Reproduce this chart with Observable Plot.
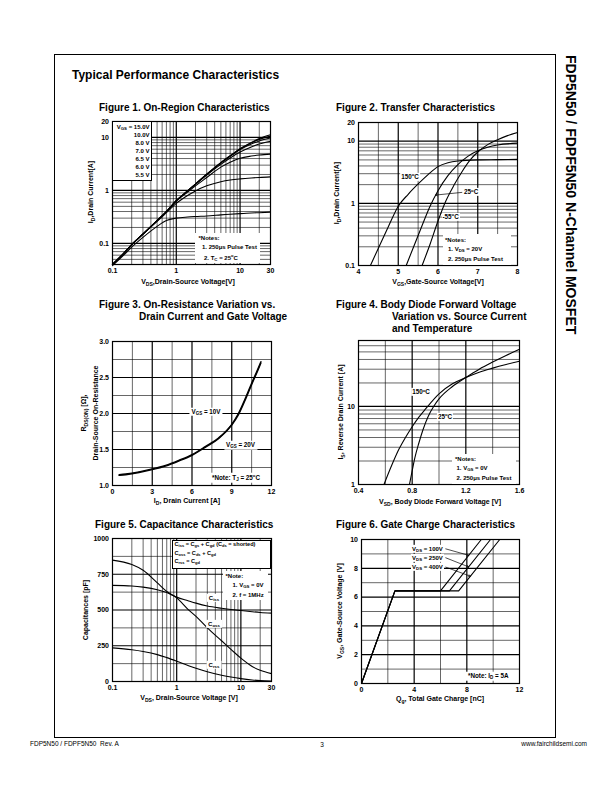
<!DOCTYPE html>
<html><head><meta charset="utf-8">
<script src="https://cdn.jsdelivr.net/npm/d3@7"></script>
<script src="https://cdn.jsdelivr.net/npm/@observablehq/plot@0.6"></script>
<style>
body{margin:0;background:#fff;}
#page{position:relative;width:612px;height:792px;overflow:hidden;background:#fff;font-family:"Liberation Sans",Arial,Helvetica,sans-serif;color:#000;}
sub{font-size:72%;vertical-align:baseline;position:relative;top:0.32em;}
sup{font-size:68%;vertical-align:baseline;position:relative;top:-0.5em;}
</style></head><body><div id="page"></div>
<script>
// ---------------- DATA ----------------
// Figure 1: On-Region Characteristics (ID vs VDS for several VGS)
const fig1Vds = [0.1,0.15,0.2,0.3,0.5,0.7,1,1.5,2,3,5,7,10,15,20,30];
const fig1Vgs = ["15.0V","10.0V","8.0 V","7.0 V","6.5 V","6.0 V","5.5 V"];
const fig1Id15 = [0.04,0.065,0.095,0.15,0.27,0.40,0.64,0.98,1.32,2.02,3.35,4.5,6.1,8.0,9.5,11.2];
const fig1Id10 = [0.04,0.065,0.095,0.15,0.27,0.40,0.64,0.98,1.32,2.02,3.35,4.5,6.05,7.9,9.2,10.6];
const fig1Id8  = [0.04,0.065,0.095,0.15,0.27,0.40,0.64,0.98,1.32,2.0,3.3,4.4,5.9,7.5,8.6,9.8];
const fig1Id7  = [0.04,0.065,0.095,0.15,0.27,0.40,0.64,0.97,1.3,1.95,3.1,4.1,5.3,6.6,7.5,8.5];
const fig1Id65 = [0.04,0.065,0.095,0.15,0.27,0.40,0.63,0.93,1.22,1.75,2.75,3.4,4.05,4.45,4.65,4.85];
const fig1Id6  = [0.04,0.065,0.095,0.15,0.26,0.38,0.57,0.8,0.98,1.22,1.46,1.57,1.65,1.72,1.76,1.8];
const fig1Id55 = [0.038,0.06,0.085,0.13,0.21,0.27,0.30,0.315,0.322,0.33,0.345,0.355,0.365,0.375,0.38,0.39];
const fig1XTicks = [0.1,1,10,30], fig1XLabels = ["0.1","1","10","30"];
const fig1YTicks = [0.04,0.1,1,10,20], fig1YLabels = ["0.04","0.1","1","10","20"];

// Figure 2: Transfer Characteristics
const fig2Vgs150 = [4.3,4.5,4.75,5.0,5.25,5.5,5.75,6.0,6.25,6.5,7.0,7.5,8.0];
const fig2Id150  = [0.1,0.19,0.42,0.9,1.4,2.05,2.9,3.9,4.5,4.8,5.0,5.05,5.1];
const fig2Vgs25  = [5.2,5.4,5.6,5.8,6.0,6.25,6.5,6.75,7.0,7.25,7.5,8.0];
const fig2Id25   = [0.1,0.21,0.44,0.9,1.6,2.8,4.2,5.7,7.0,8.0,8.7,9.3];
const fig2VgsM55 = [5.6,5.8,6.0,6.2,6.4,6.6,6.8,7.0,7.25,7.5,7.75,8.0];
const fig2IdM55  = [0.1,0.22,0.52,1.1,1.95,3.2,4.9,6.7,8.8,10.6,12.3,13.8];
const fig2XTicks = [4,5,6,7,8], fig2XLabels = ["4","5","6","7","8"];
const fig2YTicks = [0.1,1,10,20], fig2YLabels = ["0.1","1","10","20"];
const fig2Arrows = [{x1:6.6, y1:1.5, x2:5.94, y2:1.36}];

// Figure 3: On-Resistance vs Drain Current
const fig3Id  = [0.5,1,2,3,4,5,6,7,8,9,9.5,10,10.5,11,11.2];
const fig3R10 = [1.15,1.16,1.19,1.23,1.28,1.35,1.43,1.54,1.66,1.85,2.0,2.2,2.42,2.63,2.72];
const fig3R20 = [1.14,1.15,1.18,1.22,1.27,1.34,1.42,1.53,1.65,1.84,1.98,2.18,2.40,2.61,2.70];
const fig3XTicks = [0,3,6,9,12], fig3XLabels = ["0","3","6","9","12"];
const fig3YTicks = [1.0,1.5,2.0,2.5,3.0], fig3YLabels = ["1.0","1.5","2.0","2.5","3.0"];

// Figure 4: Body Diode Forward Voltage
const fig4Vsd150 = [0.59,0.65,0.7,0.75,0.8,0.85,0.9,1.0,1.1,1.2,1.3,1.4,1.5,1.6];
const fig4Is150  = [1,1.8,2.8,4.0,5.5,7.3,9.3,14.5,19.5,23.5,27.5,31,34.5,38];
const fig4Vsd25  = [0.78,0.8,0.82,0.85,0.88,0.92,0.96,1.0,1.1,1.2,1.3,1.4,1.5,1.6];
const fig4Is25   = [1,1.5,2.2,3.4,5,7.5,10,12.5,18,23.5,30,37,45,54];
const fig4XTicks = [0.4,0.8,1.2,1.6], fig4XLabels = ["0.4","0.8","1.2","1.6"];
const fig4YTicks = [1,10,70], fig4YLabels = ["1","10","70"];

// Figure 5: Capacitance Characteristics
const fig5Vds  = [0.1,0.2,0.3,0.5,0.7,1,1.5,2,3,5,7,10,15,20,30];
const fig5Ciss = [672,668,660,642,622,590,565,548,528,512,503,496,488,483,478];
const fig5Coss = [849,818,778,690,630,585,505,455,375,285,225,163,105,78,55];
const fig5Crss = [235,222,210,188,167,142,112,92,68,44,31,20,11,7,4];
const fig5XTicks = [0.1,1,10,30], fig5XLabels = ["0.1","1","10","30"];
const fig5YTicks = [0,250,500,750,1000], fig5YLabels = ["0","250","500","750","1000"];

// Figure 6: Gate Charge Characteristics
const fig6Vds   = ["100V","250V","400V"];
const fig6Qg100 = [0,2.54,6.0,9.1];
const fig6Qg250 = [0,2.54,6.68,9.8];
const fig6Qg400 = [0,2.54,7.38,10.5];
const fig6Vgs   = [0,6.43,6.43,10];
const fig6XTicks = [0,4,8,12], fig6XLabels = ["0","4","8","12"];
const fig6YTicks = [0,2,4,6,8,10], fig6YLabels = ["0","2","4","6","8","10"];
const fig6Arrows = [
  {x1:6.4, y1:9.35, x2:8.14, y2:8.9},
  {x1:6.4, y1:8.73, x2:8.13, y2:8.1},
  {x1:6.4, y1:8.08, x2:8.27, y2:7.45}
];

// ---------------- HELPERS ----------------
const page = document.getElementById("page");
const FONT = "'Liberation Sans', Arial, Helvetica, sans-serif";

function logMinor(lo, hi) {
  const out = [];
  for (let e = -3; e <= 3; e++) for (let k = 2; k <= 9; k++) {
    const v = +(k * Math.pow(10, e)).toPrecision(6);
    if (v > lo * 1.0001 && v < hi * 0.9999) out.push(v);
  }
  return out;
}

function makeChart(o) {
  const [fx1, fy1, fx2, fy2] = o.frame;
  const mL = 34, mR = 14, mT = 10, mB = 16;
  const grid = [];
  if (o.gx) grid.push(Plot.ruleX(o.gx, {stroke: "#000", strokeWidth: 0.6}));
  if (o.gy) grid.push(Plot.ruleY(o.gy, {stroke: "#000", strokeWidth: 0.6}));
  if (o.gxM) grid.push(Plot.ruleX(o.gxM, {stroke: "#000", strokeWidth: 1.2}));
  if (o.gyM) grid.push(Plot.ruleY(o.gyM, {stroke: "#000", strokeWidth: 1.2}));
  const fx = (t, l) => d => l[t.indexOf(d)] ?? String(d);
  const fig = Plot.plot({
    width: fx2 - fx1 + mL + mR,
    height: fy2 - fy1 + mT + mB,
    marginLeft: mL, marginRight: mR, marginTop: mT, marginBottom: mB,
    style: {fontFamily: FONT, fontSize: "7px", fontWeight: "bold", overflow: "visible", background: "transparent", color: "#000"},
    x: {...o.x, label: null},
    y: {...o.y, label: null},
    marks: [
      ...grid,
      ...o.marks,
      Plot.frame({stroke: "#000", strokeWidth: 1.2}),
      Plot.axisX({ticks: o.xt, tickSize: 0, tickPadding: 4, tickFormat: fx(o.xt, o.xl), fontSize: 7, fontWeight: "bold", fill: "#000"}),
      Plot.axisY({ticks: o.yt, tickSize: 0, tickPadding: 3.5, tickFormat: fx(o.yt, o.yl), fontSize: 7, fontWeight: "bold", fill: "#000"})
    ]
  });
  fig.style.position = "absolute";
  fig.style.left = (fx1 - mL) + "px";
  fig.style.top = (fy1 - mT) + "px";
  page.appendChild(fig);
  return fig;
}

function T(html, x, y, o = {}) {
  const d = document.createElement("div");
  d.innerHTML = html;
  const s = d.style;
  s.position = "absolute"; s.whiteSpace = "nowrap";
  s.left = x + "px"; s.top = y + "px";
  s.fontSize = (o.size || 6) + "px";
  s.fontWeight = o.bold === false ? "normal" : "bold";
  s.lineHeight = "1";
  if (o.bg) { s.background = "#fff"; s.padding = o.pad || "1px 1px"; }
  const tx = o.align === "center" ? "-50%" : o.align === "right" ? "-100%" : "0";
  s.transform = `translate(${tx},-50%)` + (o.rot ? ` rotate(${o.rot}deg)` : "");
  page.appendChild(d);
  return d;
}
function B(x, y, w, h, border) {
  const d = document.createElement("div");
  const s = d.style;
  s.position = "absolute"; s.left = x + "px"; s.top = y + "px";
  s.width = w + "px"; s.height = h + "px"; s.background = "#fff";
  s.boxSizing = "border-box";
  if (border) s.border = "1px solid #000";
  page.appendChild(d);
}

const lineOpts = {stroke: "#000", strokeWidth: 1.1, curve: "monotone-x"};

// ---------------- FIGURE 1 ----------------
const fig1Series = [fig1Id15, fig1Id10, fig1Id8, fig1Id7, fig1Id65, fig1Id6, fig1Id55];
const fig1Rows = fig1Vgs.flatMap((s, k) => fig1Vds.map((v, j) => ({s, v, i: fig1Series[k][j]})));
makeChart({
  frame: [112, 121, 270, 264],
  x: {type: "log", domain: [0.1, 30]}, y: {type: "log", domain: [0.04, 20]},
  gx: logMinor(0.1, 30).filter(v => v !== 1 && v !== 10), gxM: [1, 10],
  gy: logMinor(0.04, 20).filter(v => v !== 0.1 && v !== 1 && v !== 10), gyM: [0.1, 1, 10],
  xt: fig1XTicks, xl: fig1XLabels, yt: fig1YTicks, yl: fig1YLabels,
  marks: [Plot.line(fig1Rows, {x: "v", y: "i", z: "s", ...lineOpts})]
});

// ---------------- FIGURE 2 ----------------
const fig2Rows = [
  ...fig2Vgs150.map((v, j) => ({s: "150", v, i: fig2Id150[j]})),
  ...fig2Vgs25.map((v, j) => ({s: "25", v, i: fig2Id25[j]})),
  ...fig2VgsM55.map((v, j) => ({s: "-55", v, i: fig2IdM55[j]}))
];
makeChart({
  frame: [358, 122, 517, 265],
  x: {domain: [4, 8]}, y: {type: "log", domain: [0.1, 20]},
  gx: [4.5, 5.5, 6.5, 7.5], gxM: [5, 6, 7],
  gy: logMinor(0.1, 20).filter(v => v !== 1 && v !== 10), gyM: [1, 10],
  xt: fig2XTicks, xl: fig2XLabels, yt: fig2YTicks, yl: fig2YLabels,
  marks: [
    Plot.line(fig2Rows, {x: "v", y: "i", z: "s", ...lineOpts}),
    Plot.arrow(fig2Arrows, {x1: "x1", y1: "y1", x2: "x2", y2: "y2", stroke: "#000", strokeWidth: 0.7, headLength: 4})
  ]
});

// ---------------- FIGURE 3 ----------------
const fig3Rows = [
  ...fig3Id.map((v, j) => ({s: "10V", v, r: fig3R10[j]})),
  ...fig3Id.map((v, j) => ({s: "20V", v, r: fig3R20[j]}))
];
makeChart({
  frame: [112, 341, 271, 485],
  x: {domain: [0, 12]}, y: {domain: [1, 3]},
  gx: [1.5, 4.5, 7.5, 10.5], gxM: [3, 6, 9],
  gy: [1.25, 1.75, 2.25, 2.75], gyM: [1.5, 2.0, 2.5],
  xt: fig3XTicks, xl: fig3XLabels, yt: fig3YTicks, yl: fig3YLabels,
  marks: [Plot.line(fig3Rows, {x: "v", y: "r", z: "s", ...lineOpts, strokeWidth: 1.4})]
});

// ---------------- FIGURE 4 ----------------
const fig4Rows = [
  ...fig4Vsd150.map((v, j) => ({s: "150", v, i: fig4Is150[j]})),
  ...fig4Vsd25.map((v, j) => ({s: "25", v, i: fig4Is25[j]}))
];
makeChart({
  frame: [358, 340, 519, 484],
  x: {domain: [0.4, 1.6]}, y: {type: "log", domain: [1, 70]},
  gx: [0.6, 1.0, 1.4], gxM: [0.8, 1.2],
  gy: logMinor(1, 70).filter(v => v !== 10), gyM: [10],
  xt: fig4XTicks, xl: fig4XLabels, yt: fig4YTicks, yl: fig4YLabels,
  marks: [Plot.line(fig4Rows, {x: "v", y: "i", z: "s", ...lineOpts})]
});

// ---------------- FIGURE 5 ----------------
const fig5Rows = [
  ...fig5Vds.map((v, j) => ({s: "Ciss", v, c: fig5Ciss[j]})),
  ...fig5Vds.map((v, j) => ({s: "Coss", v, c: fig5Coss[j]})),
  ...fig5Vds.map((v, j) => ({s: "Crss", v, c: fig5Crss[j]}))
];
makeChart({
  frame: [112, 538, 271, 681],
  x: {type: "log", domain: [0.1, 30]}, y: {domain: [0, 1000]},
  gx: logMinor(0.1, 30).filter(v => v !== 1 && v !== 10), gxM: [1, 10],
  gy: [125, 375, 625, 875], gyM: [250, 500, 750],
  xt: fig5XTicks, xl: fig5XLabels, yt: fig5YTicks, yl: fig5YLabels,
  marks: [Plot.line(fig5Rows, {x: "v", y: "c", z: "s", ...lineOpts})]
});

// ---------------- FIGURE 6 ----------------
const fig6QgSeries = [fig6Qg100, fig6Qg250, fig6Qg400];
const fig6Rows = fig6Vds.flatMap((s, k) => fig6Vgs.map((v, j) => ({s, q: fig6QgSeries[k][j], v})));
makeChart({
  frame: [361, 539, 519, 683],
  x: {domain: [0, 12]}, y: {domain: [0, 10]},
  gx: [2, 6, 10], gxM: [4, 8],
  gy: [1, 3, 5, 7, 9], gyM: [2, 4, 6, 8],
  xt: fig6XTicks, xl: fig6XLabels, yt: fig6YTicks, yl: fig6YLabels,
  marks: [
    Plot.line(fig6Rows, {x: "q", y: "v", z: "s", stroke: "#000", strokeWidth: 1.1}),
    Plot.arrow(fig6Arrows, {x1: "x1", y1: "y1", x2: "x2", y2: "y2", stroke: "#000", strokeWidth: 0.7, headLength: 4})
  ]
});

// ---------------- PAGE TEXT & OVERLAYS ----------------
// border
(() => { const d = document.createElement("div"); const s = d.style;
  s.position = "absolute"; s.left = "54px"; s.top = "54px"; s.width = "502px"; s.height = "684px";
  s.border = "1px solid #000"; s.boxSizing = "border-box"; s.pointerEvents = "none"; page.appendChild(d); })();
T("Typical Performance Characteristics", 72, 75, {size: 12});
(() => { const d = T("FDP5N50 / FDPF5N50 N-Channel MOSFET", 564, 55, {size: 14});
  d.style.writingMode = "vertical-rl"; d.style.transform = "none"; })();
T("FDP5N50 / FDPF5N50&nbsp; Rev. A", 30, 744, {size: 6.5, bold: false});
T("3", 322, 745, {size: 6.5, bold: false, align: "center"});
T("www.fairchildsemi.com", 587, 744, {size: 6.5, bold: false, align: "right"});

// Titles
T("Figure 1. On-Region Characteristics", 99, 108, {size: 10});
T("Figure 2. Transfer Characteristics", 336, 108, {size: 10});
T("Figure 3. On-Resistance Variation vs.", 99, 305, {size: 10});
T("Drain Current and Gate Voltage", 139, 317, {size: 10});
T("Figure 4. Body Diode Forward Voltage", 336, 305, {size: 10});
T("Variation vs. Source Current", 392, 317, {size: 10});
T("and Temperature", 392, 329, {size: 10});
T("Figure 5. Capacitance Characteristics", 95, 525, {size: 10});
T("Figure 6. Gate Charge Characteristics", 336, 525, {size: 10});

// Axis titles
T("I<sub>D</sub>,Drain Current[A]", 91, 192, {size: 7, align: "center", rot: -90});
T("V<sub>DS</sub>,Drain-Source Voltage[V]", 188, 282, {size: 7, align: "center"});
T("I<sub>D</sub>,Drain Current[A]", 337, 193, {size: 7, align: "center", rot: -90});
T("V<sub>GS</sub>,Gate-Source Voltage[V]", 438, 282, {size: 7, align: "center"});
T("R<sub>DS(ON)</sub> [&Omega;],", 84, 413, {size: 7, align: "center", rot: -90});
T("Drain-Source On-Resistance", 95, 413, {size: 7, align: "center", rot: -90});
T("I<sub>D</sub>, Drain Current [A]", 187, 501, {size: 7, align: "center"});
T("I<sub>S</sub>, Reverse Drain Current [A]", 341, 412, {size: 7, align: "center", rot: -90});
T("V<sub>SD</sub>, Body Diode Forward Voltage [V]", 440, 502, {size: 7, align: "center"});
T("Capacitances [pF]", 85, 610, {size: 7, align: "center", rot: -90});
T("V<sub>DS</sub>, Drain-Source Voltage [V]", 189, 698, {size: 7, align: "center"});
T("V<sub>GS</sub>, Gate-Source Voltage [V]", 340, 611, {size: 7, align: "center", rot: -90});
T("Q<sub>g</sub>, Total Gate Charge [nC]", 440, 699, {size: 7, align: "center"});

// Figure 1 overlays
B(112, 121, 39.5, 60, true);
["V<sub>GS</sub> = 15.0V", "10.0V", "8.0 V", "7.0 V", "6.5 V", "6.0 V", "5.5 V"].forEach((t, i) =>
  T(t, 149.5, 126.5 + 8 * i, {size: 6, align: "right"}));
B(195, 233, 65, 29.5);
T("*Notes:", 198.5, 237.5, {size: 6});
T("1. 250&mu;s Pulse Test", 202, 246.5, {size: 6});
T("2. T<sub>C</sub> = 25<sup>o</sup>C", 204, 257.5, {size: 6});

// Figure 2 overlays
T("150<sup>o</sup>C", 410, 176.5, {size: 6.3, align: "center", bg: true});
T("25<sup>o</sup>C", 463, 192, {size: 6.3, bg: true});
T("-55<sup>o</sup>C", 441.5, 216.5, {size: 6.3, bg: true});
B(443, 234, 68, 30.5);
T("*Notes:", 445, 239.5, {size: 6});
T("1. V<sub>DS</sub> = 20V", 448, 248.5, {size: 6});
T("2. 250&mu;s Pulse Test", 448, 258.5, {size: 6});

// Figure 3 overlays
T("V<sub>GS</sub> = 10V", 206, 411.5, {size: 6.3, align: "center", bg: true, pad: "1px 2px"});
T("V<sub>GS</sub> = 20V", 240.5, 445, {size: 6.3, align: "center", bg: true, pad: "1px 2px"});
T("*Note: T<sub>J</sub> = 25<sup>o</sup>C", 211, 477.5, {size: 6.3, bg: true, pad: "2px 1px"});

// Figure 4 overlays
T("150<sup>o</sup>C", 421, 392, {size: 6.3, align: "center", bg: true});
T("25<sup>o</sup>C", 445, 416.5, {size: 6.3, align: "center", bg: true});
B(452, 454, 64, 29.5);
T("*Notes:", 455, 459, {size: 6});
T("1. V<sub>GS</sub> = 0V", 456.5, 468, {size: 6});
T("2. 250&mu;s Pulse Test", 456.5, 478, {size: 6});

// Figure 5 overlays
B(171.5, 539.5, 99, 29, true);
T("C<sub>iss</sub> = C<sub>gs</sub> + C<sub>gd</sub> (C<sub>ds</sub> = shorted)", 174.5, 545, {size: 5.6});
T("C<sub>oss</sub> = C<sub>ds</sub> + C<sub>gd</sub>", 174.5, 553.5, {size: 5.6});
T("C<sub>rss</sub> = C<sub>gd</sub>", 174.5, 562, {size: 5.6});
B(223, 571, 45, 29);
T("*Note:", 225.5, 576, {size: 6});
T("1. V<sub>GS</sub> = 0V", 232.5, 585, {size: 6});
T("2. f = 1MHz", 232.5, 594.5, {size: 6});
T("C<sub>iss</sub>", 214, 598, {size: 6, align: "center", bg: true, pad: "1px 2px"});
T("C<sub>oss</sub>", 214, 623.5, {size: 6, align: "center", bg: true, pad: "1px 2px"});
T("C<sub>rss</sub>", 214, 665, {size: 6, align: "center", bg: true, pad: "1px 2px"});

// Figure 6 overlays
T("V<sub>DS</sub> = 100V", 411, 548.5, {size: 6, bg: true});
T("V<sub>DS</sub> = 250V", 411, 557.5, {size: 6, bg: true});
T("V<sub>DS</sub> = 400V", 411, 566.5, {size: 6, bg: true});
T("*Note: I<sub>D</sub> = 5A", 466, 676, {size: 6.3, bg: true, pad: "1px 2px"});
</script>
</body></html>
